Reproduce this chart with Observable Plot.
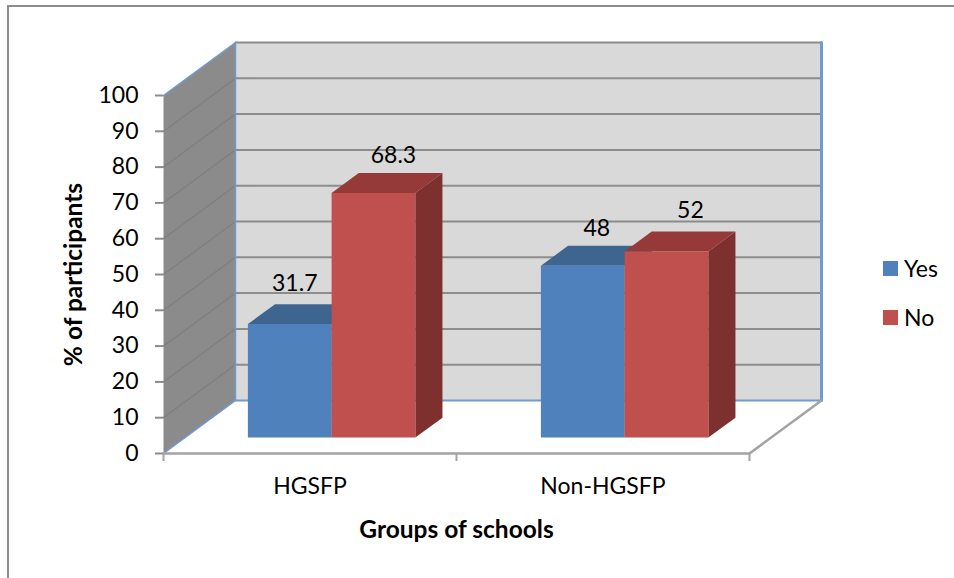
<!DOCTYPE html>
<html>
<head>
<meta charset="utf-8">
<script src="https://cdn.jsdelivr.net/npm/d3@7"></script>
<script src="https://cdn.jsdelivr.net/npm/@observablehq/plot@0.6"></script>
<style>
  html, body { margin: 0; padding: 0; background: #fff; }
  #chart { position: relative; width: 954px; height: 578px; overflow: hidden; font-family: Lato, sans-serif; color: #000; }
  #chart svg { display: block; position: absolute; left: 0; top: 0; }
  .edge { position: absolute; background: #8c8c8c; }
  .key { position: absolute; left: 883px; display: flex; align-items: center; font-size: 23px; line-height: 16px; height: 16px; }
  .key i { display: block; width: 15px; height: 15px; margin-right: 6px; }
</style>
</head>
<body>
<div id="chart"></div>
<script>
// Survey results
const categories = ["HGSFP", "Non-HGSFP"];
const seriesNames = ["Yes", "No"];
const yesValues = [31.7, 48];
const noValues = [68.3, 52];
const yTicks = [0, 10, 20, 30, 40, 50, 60, 70, 80, 90, 100];
const xTitle = "Groups of schools";
const yTitle = "% of participants";

// Palette per series: front, top and side faces
const faces = {
  Yes: {front: "#4f81bd", top: "#3e6490", side: "#335478"},
  No: {front: "#c0504d", top: "#953a39", side: "#7d302e"}
};

// Oblique projection: a point at depth d (0 = front, 1 = back wall) slides right and up
const shiftX = 0.2457;
const shiftY = 14.8;
const at = (x, y, d) => [x + d * shiftX, y + d * shiftY];

const barHalf = 1 / 3.5;       // each bar is 1/3.5 of a category wide
const depthNear = 0.3;
const depthFar = 0.677;

const poly = (points, fill) =>
  Plot.line(points, {x: (p) => p[0], y: (p) => p[1], fill, stroke: "none"});
const seg = (points, stroke, strokeWidth = 2) =>
  Plot.line(points, {x: (p) => p[0], y: (p) => p[1], stroke, strokeWidth});

const gridBack = "#8c8c8c";
const gridSide = "#808080";
const wallEdge = "#6f9bd1";
const floorEdge = "#a3a3a3";

// Walls and gridlines
const walls = [
  poly([at(0, 0, 1), at(2, 0, 1), at(2, 100, 1), at(0, 100, 1)], "#d9d9d9"),
  poly([at(0, 0, 0), at(0, 0, 1), at(0, 100, 1), at(0, 100, 0)], "#8b8b8b"),
  ...yTicks.filter((t) => t > 0 && t < 100).map((t) => seg([at(0, t, 1), at(2, t, 1)], gridBack)),
  ...yTicks.filter((t) => t > 0 && t < 100).map((t) => seg([at(0, t, 0), at(0, t, 1)], gridSide, 1.5)),
  seg([at(0, 100, 1), at(2, 100, 1)], gridBack),
  seg([at(0, 0, 1), at(2, 0, 1)], wallEdge),
  seg([at(0, 100, 0), at(0, 100, 1)], wallEdge, 1.5),
  seg([at(0, 0, 0), at(0, 0, 1)], wallEdge, 1.5),
  seg([at(0, 0, 1), at(0, 100, 1)], wallEdge, 1.5),
  seg([at(2, 0, 1), at(2, 100, 1)], wallEdge, 3),
  seg([at(0, 0, 0), at(2, 0, 0), at(2, 0, 1)], floorEdge, 2.5)
];

// One box: side and top first, then the front face over them
const box = (x0, x1, v, c) => [
  poly([at(x1, 0, depthNear), at(x1, 0, depthFar), at(x1, v, depthFar), at(x1, v, depthNear)], c.side),
  poly([at(x0, v, depthNear), at(x0, v, depthFar), at(x1, v, depthFar), at(x1, v, depthNear)], c.top),
  poly([at(x0, 0, depthNear), at(x1, 0, depthNear), at(x1, v, depthNear), at(x0, v, depthNear)], c.front)
];

const boxes = categories.flatMap((_, i) => {
  const mid = i + 0.5;
  return [
    ...box(mid - barHalf, mid, yesValues[i], faces.Yes),
    ...box(mid, mid + barHalf, noValues[i], faces.No)
  ];
});

// Value labels, nudged by hand in pixels as they sit on the finished chart
const labelNudge = {Yes: [[5, -40], [14, -37]], No: [[20, -37], [24, -41]]};
const valueLabels = categories.flatMap((_, i) => {
  const mid = i + 0.5;
  const label = (x, v, [dx, dy]) => {
    const [px, py] = at(x, v, depthNear);
    return Plot.text([String(v)], {x: () => px, y: () => py, text: (d) => d, dx, dy, fontSize: 23, fill: "#000"});
  };
  return [
    label(mid - barHalf / 2, yesValues[i], labelNudge.Yes[i]),
    label(mid + barHalf / 2, noValues[i], labelNudge.No[i])
  ];
});

const plot = Plot.plot({
  width: 954,
  height: 578,
  marginLeft: 163,
  marginRight: 205,
  marginTop: 95,
  marginBottom: 125,
  style: {fontFamily: "Lato, sans-serif", fontSize: "23px", background: "transparent", color: "#000"},
  x: {domain: [0, 2], label: null},
  y: {domain: [0, 100], label: null},
  marks: [
    ...walls,
    ...boxes,
    ...valueLabels,
    // y axis ticks and numbers
    Plot.axisY({ticks: yTicks, tickSize: 8, tickPadding: 17, stroke: "#8c8c8c", strokeWidth: 2, fill: "#000", label: null}),
    // category boundary ticks and centred category names
    Plot.axisX({ticks: [0, 1, 2], tickSize: 8, stroke: floorEdge, strokeWidth: 2, tickFormat: () => "", label: null}),
    Plot.axisX({ticks: [0.5, 1.5], tickSize: 0, tickPadding: 24, tickFormat: (t) => categories[Math.floor(t)], fill: "#000", label: null}),
    // axis titles
    Plot.text([xTitle], {x: () => 1, y: () => -21.5, text: (d) => d, fontWeight: "bold", fontSize: 24.5, fill: "#000"}),
    Plot.text([yTitle], {x: () => -0.304, y: () => 50, text: (d) => d, rotate: -90, fontWeight: "bold", fontSize: 24.5, fill: "#000"})
  ]
});

const chart = document.getElementById("chart");
chart.appendChild(plot);

// Outer frame of the chart area: top and left edges only
const frameTop = document.createElement("div");
frameTop.className = "edge";
frameTop.style.cssText = "left:7px;top:5px;right:0;height:1.5px";
chart.appendChild(frameTop);
const frameLeft = document.createElement("div");
frameLeft.className = "edge";
frameLeft.style.cssText = "left:7px;top:5px;bottom:0;width:2px";
chart.appendChild(frameLeft);

// Legend
seriesNames.forEach((name, i) => {
  const row = document.createElement("div");
  row.className = "key";
  row.style.top = (i === 0 ? 260 : 309) + "px";
  const swatch = document.createElement("i");
  swatch.style.background = faces[name].front;
  row.appendChild(swatch);
  row.appendChild(document.createTextNode(name));
  chart.appendChild(row);
});
</script>
</body>
</html>
